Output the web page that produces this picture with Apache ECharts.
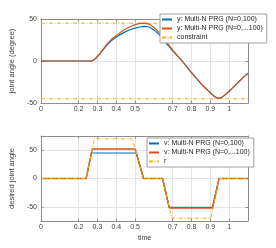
<!DOCTYPE html>
<html><head><meta charset="utf-8">
<script src="https://cdn.jsdelivr.net/npm/echarts@6/dist/echarts.min.js"></script>
<style>html,body{margin:0;padding:0;background:#fff}#c{width:276px;height:248px}</style>
</head><body><div id="c"></div>
<script>
// ---- data ----
const xTicks = [0, 0.2, 0.3, 0.4, 0.5, 0.7, 0.8, 0.9, 1];
const yTicksTop = [-50, 0, 50];
const yTicksBottom = [-50, 0, 50];

const tTop = [0, 0.1, 0.2, 0.25, 0.27, 0.29, 0.31, 0.33, 0.35, 0.375, 0.4, 0.425, 0.45, 0.475, 0.5, 0.525, 0.55, 0.575, 0.6, 0.625, 0.65, 0.675, 0.7, 0.725, 0.75, 0.775, 0.8, 0.825, 0.85, 0.875, 0.9, 0.92, 0.94, 0.96, 0.98, 1.0, 1.025, 1.05, 1.075, 1.1];
const yPRG_a = [0, 0, 0, 0, 0, 3, 8, 13.5, 19, 24.5, 28.5, 32, 35, 37.5, 39.2, 40.5, 41.3, 40.5, 37, 32, 25.5, 18.5, 12, 6, 0, -7, -14, -20.5, -27, -32.5, -38, -42, -44.5, -43.5, -40, -36, -30.5, -25, -19.5, -14.5];
const yPRG_b = [0, 0, 0, 0, 0, 3, 8.3, 14, 20, 26, 30.5, 34.5, 38, 41, 43.3, 44.8, 45, 44, 40, 34.5, 28, 20.5, 13, 6.5, 0, -7, -14, -20.5, -27, -32.5, -38, -42, -44.5, -43.5, -40, -36, -30.5, -25, -19.5, -14.5];
const tConstraint = [0, 1.1];
const constraintUpper = [45, 45];
const constraintLower = [-45, -45];

const tV_a = [0, 0.24, 0.268, 0.506, 0.545, 0.646, 0.681, 0.912, 0.946, 1.1];
const vPRG_a = [0, 0, 45, 45, 0, 0, -51, -51, 0, 0];
const tV_b = [0, 0.24, 0.272, 0.5, 0.545, 0.646, 0.682, 0.911, 0.946, 1.1];
const vPRG_b = [0, 0, 52, 52, 0, 0, -52, -52, 0, 0];
const tR = [0, 0.24, 0.283, 0.485, 0.545, 0.646, 0.694, 0.903, 0.946, 1.1];
const rRef = [0, 0, 70, 70, 0, 0, -70, -70, 0, 0];

const names = {
  y1: 'y: Multi-N PRG (N=0,100)', y2: 'y: Multi-N PRG (N=0,...100)', c: 'constraint',
  v1: 'v: Multi-N PRG (N=0,100)', v2: 'v: Multi-N PRG (N=0,...100)', r: 'r'
};

// ---- styling ----
const FONT = 'Liberation Sans, Arial, sans-serif';
const BLUE = '#0072BD', ORANGE = '#D95319', YELLOW = '#EDB120';
const AX = '#8c8c8c', TXT = '#404040', GRID = '#e4e4e4';
const zip = (a, b) => a.map((v, i) => [v, b[i]]);

function xAx(gi, pos, labels) {
  return {
    type: 'value', gridIndex: gi, position: pos, min: 0, max: 1.1,
    axisLine: { show: true, onZero: false, lineStyle: { color: AX, width: 1 } },
    axisTick: { show: true, inside: true, length: 2.5, customValues: xTicks, lineStyle: { color: AX } },
    axisLabel: { show: labels, customValues: xTicks, fontSize: 7, color: TXT, fontFamily: FONT, margin: 3 },
    splitLine: { show: labels, lineStyle: { color: GRID, width: 1 } },
    name: (labels && gi === 1) ? 'time' : '', nameLocation: 'middle', nameGap: 14,
    nameTextStyle: { fontSize: 7, color: TXT, fontFamily: FONT }
  };
}
function yAx(gi, pos, labels, min, max, ticks, name, gap) {
  return {
    type: 'value', gridIndex: gi, position: pos, min: min, max: max,
    axisLine: { show: true, onZero: false, lineStyle: { color: AX, width: 1 } },
    axisTick: { show: true, inside: true, length: 2.5, customValues: ticks, lineStyle: { color: AX } },
    axisLabel: { show: labels, customValues: ticks, fontSize: 7, color: TXT, fontFamily: FONT, margin: 4 },
    splitLine: { show: labels, lineStyle: { color: GRID, width: 1 } },
    name: labels ? name : '', nameLocation: 'middle', nameGap: gap, nameRotate: 90,
    nameTextStyle: { fontSize: 7.5, color: TXT, fontFamily: FONT }
  };
}
function line(name, xi, yi, data, color, width, type) {
  return {
    type: 'line', name: name, xAxisIndex: xi, yAxisIndex: yi, data: data,
    showSymbol: false, symbol: 'none', animation: false, silent: true,
    lineStyle: { color: color, width: width, type: type || 'solid' }, itemStyle: { color: color }
  };
}
const dashDot = [4, 1.5, 1, 1.5];
const legendBase = {
  orient: 'vertical', itemWidth: 10, itemHeight: 8, itemGap: 2,
  padding: [2, 4, 2, 1], borderColor: '#a0a0a0', borderWidth: 1, borderRadius: 0,
  backgroundColor: '#fff', textStyle: { fontSize: 7, color: '#262626', fontFamily: FONT },
  itemStyle: { opacity: 0 }, selectedMode: false, z: 10
};

const chart = echarts.init(document.getElementById('c'), null, { renderer: 'canvas' });
chart.setOption({
  backgroundColor: '#fff',
  animation: false,
  grid: [
    { left: 36.6, right: 28, top: 19, height: 84, containLabel: false },
    { left: 36.6, right: 28, top: 136, height: 85, containLabel: false }
  ],
  xAxis: [xAx(0, 'bottom', true), xAx(0, 'top', false), xAx(1, 'bottom', true), xAx(1, 'top', false)],
  yAxis: [
    yAx(0, 'left', true, -50, 50, yTicksTop, 'joint angle (degree)', 18),
    yAx(0, 'right', false, -50, 50, yTicksTop, '', 0),
    yAx(1, 'left', true, -75, 75, yTicksBottom, 'desired joint angle', 15),
    yAx(1, 'right', false, -75, 75, yTicksBottom, '', 0)
  ],
  legend: [
    Object.assign({}, legendBase, { left: 160, top: 14, data: [names.y1, names.y2, names.c] }),
    Object.assign({}, legendBase, { left: 147, top: 138, data: [names.v1, names.v2, names.r] })
  ],
  series: [
    line(names.c, 0, 0, zip(tConstraint, constraintUpper), YELLOW, 1, dashDot),
    line(names.c, 0, 0, zip(tConstraint, constraintLower), YELLOW, 1, dashDot),
    line(names.y1, 0, 0, zip(tTop, yPRG_a), BLUE, 1.2),
    line(names.y2, 0, 0, zip(tTop, yPRG_b), ORANGE, 1.2),
    line(names.v1, 2, 2, zip(tV_a, vPRG_a), BLUE, 1.2),
    line(names.v2, 2, 2, zip(tV_b, vPRG_b), ORANGE, 1.5),
    line(names.r, 2, 2, zip(tR, rRef), YELLOW, 1, dashDot)
  ]
});
</script>
</body></html>
